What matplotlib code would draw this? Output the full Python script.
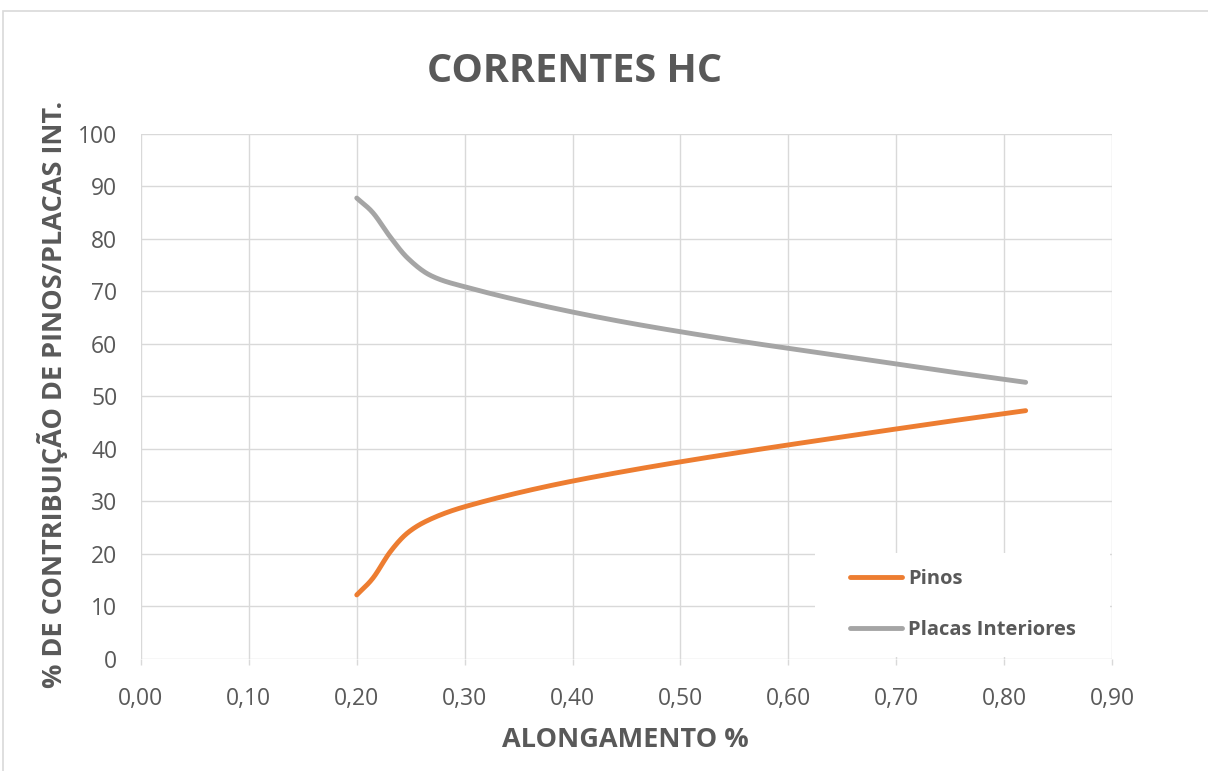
import numpy as np
import matplotlib
matplotlib.use("Agg")
import matplotlib.pyplot as plt
from matplotlib.patches import Rectangle

# elongation (%) and contribution (%) of each part
alongamento = [0.20, 0.215, 0.231, 0.247, 0.268, 0.30, 0.37, 0.45, 0.55, 0.65, 0.75, 0.82]
pinos = [12.2, 15.4, 20.4, 24.0, 26.6, 29.0, 32.6, 35.8, 39.2, 42.3, 45.3, 47.3]
placas = [87.8, 85.0, 80.4, 76.4, 73.1, 70.9, 67.4, 64.1, 60.7, 57.7, 54.7, 52.7]

xticks = [0.0, 0.1, 0.2, 0.3, 0.4, 0.5, 0.6, 0.7, 0.8, 0.9]
yticks = list(range(0, 101, 10))

TXT = "#595959"
GRID = "#d9d9d9"


def smooth(x, y, n=30):
    """Cubic Hermite curve through the points (smoothed line)."""
    x = np.asarray(x, float)
    y = np.asarray(y, float)
    d = np.diff(y) / np.diff(x)
    m = np.empty_like(y)
    m[0], m[-1] = d[0], d[-1]
    m[1:-1] = (y[2:] - y[:-2]) / (x[2:] - x[:-2])
    xs, ys = [], []
    t = np.linspace(0, 1, n, endpoint=False)
    for i in range(len(x) - 1):
        h = x[i + 1] - x[i]
        h00 = 2 * t ** 3 - 3 * t ** 2 + 1
        h10 = t ** 3 - 2 * t ** 2 + t
        h01 = -2 * t ** 3 + 3 * t ** 2
        h11 = t ** 3 - t ** 2
        xs.extend(x[i] + t * h)
        ys.extend(h00 * y[i] + h10 * h * m[i] + h01 * y[i + 1] + h11 * h * m[i + 1])
    xs.append(x[-1])
    ys.append(y[-1])
    return xs, ys


plt.rcParams['font.family'] = ['Open Sans', 'DejaVu Sans']

fig = plt.figure(figsize=(12.08, 7.71), dpi=100)
ax = fig.add_axes([0.1167, 0.1453, 0.8038, 0.6809])

# chart frame
fig.patches.append(Rectangle((3 / 1208, -0.01), 1.0, 1 - 11 / 771 + 0.01,
                             transform=fig.transFigure, fill=False,
                             edgecolor=GRID, lw=1.2))

sx, sy = smooth(alongamento, pinos)
ax.plot(sx, sy, color="#ed7d31", lw=3.5, solid_capstyle="round", label="Pinos", zorder=3)
sx, sy = smooth(alongamento, placas)
ax.plot(sx, sy, color="#a5a5a5", lw=3.5, solid_capstyle="round",
        label="Placas Interiores", zorder=3)

ax.set_xlim(0, 0.9)
ax.set_ylim(0, 100)
ax.set_xticks(xticks)
ax.set_xticklabels([f"{v:.2f}".replace(".", ",") for v in xticks])
ax.set_yticks(yticks)
ax.grid(True, color=GRID, lw=1.0)
ax.set_axisbelow(True)
for s in ax.spines.values():
    s.set_visible(False)
ax.tick_params(axis="y", length=0, pad=17, labelsize=16.5, labelcolor=TXT)
ax.tick_params(axis="x", length=4, color=GRID, width=1.0, pad=16, labelsize=16.5, labelcolor=TXT)

fig.text(0.518, 0.040, "ALONGAMENTO %", ha="center", va="center",
         fontsize=19.5, fontweight="bold", color=TXT)
fig.text(53 / 1208, 0.488, "% DE CONTRIBUIÇÃO DE PINOS/PLACAS INT.", ha="center",
         va="center", rotation=90, fontsize=19.5, fontweight="bold", color=TXT)
fig.text(0.476, 0.907, "CORRENTES HC", ha="center", va="center",
         fontsize=28.5, fontweight="bold", color=TXT)

# legend panel sitting inside the plot area
ax.add_patch(Rectangle((0.694, 0.003), 0.304, 0.199, transform=ax.transAxes,
                       facecolor="white", edgecolor="none", zorder=1))
leg = ax.legend(loc="upper left", bbox_to_anchor=(0.730, 0.171), frameon=False,
                fontsize=14.5, handlelength=2.59, labelspacing=1.54, borderpad=0,
                handletextpad=0.3, borderaxespad=0.0)
for t in leg.get_texts():
    t.set_color(TXT)
    t.set_fontweight("bold")

fig.savefig("out.png", dpi=100, facecolor="white")
